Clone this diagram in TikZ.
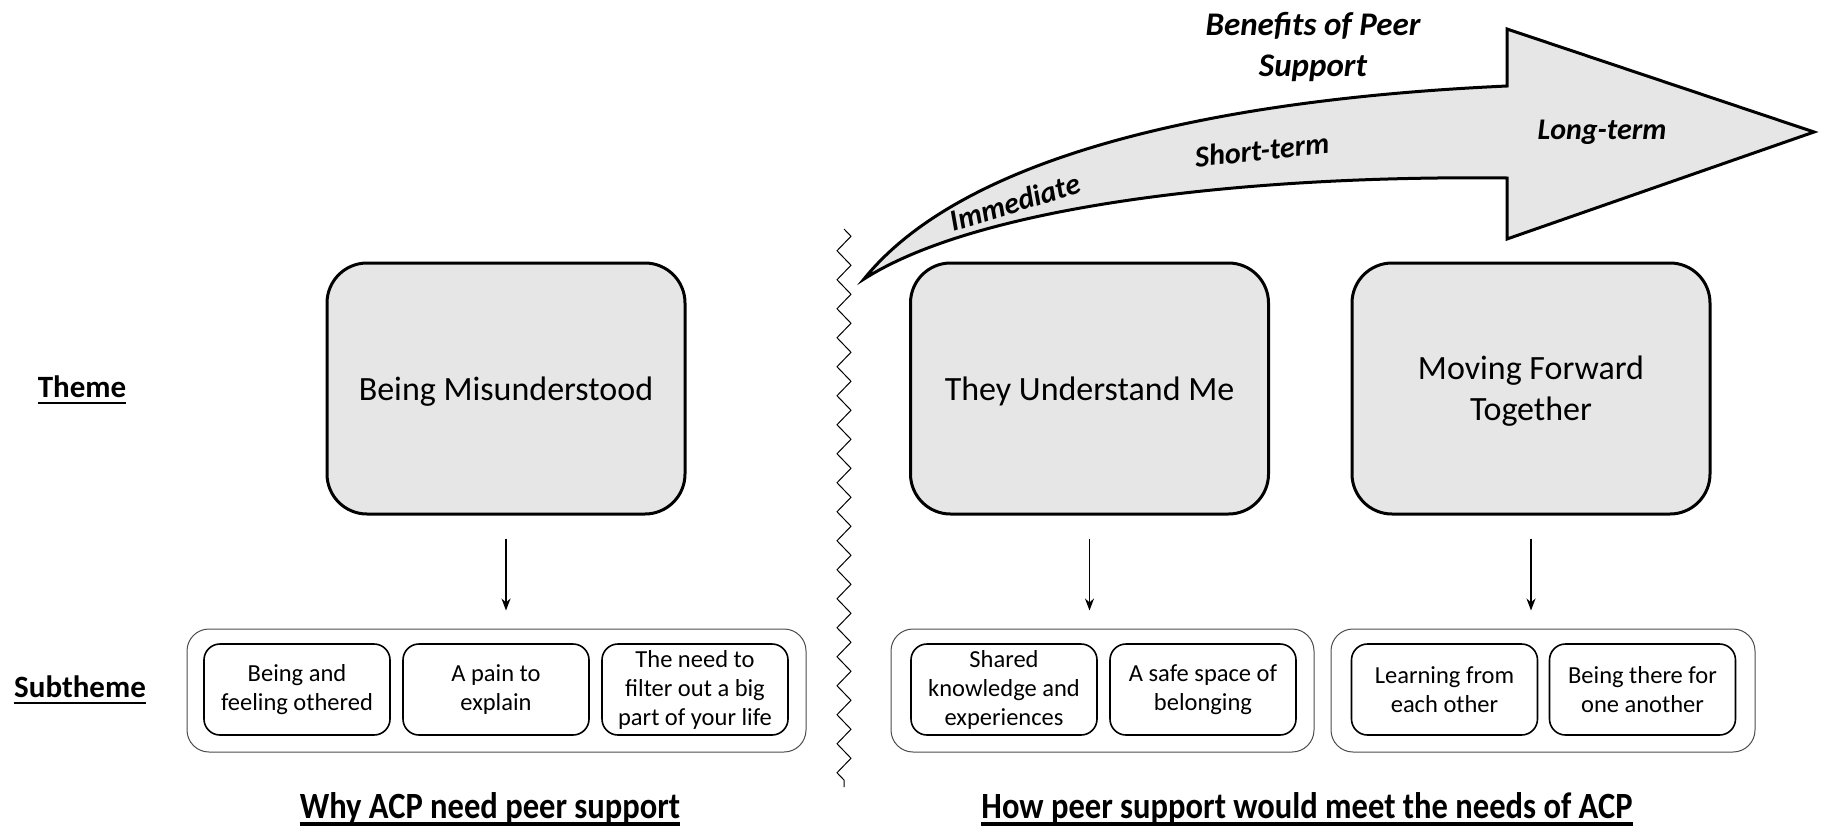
\documentclass[tikz,border=0pt]{standalone}
\usepackage{fontspec}
\setmainfont{Carlito}
\newfontfamily\condfont[FakeStretch=0.88]{Carlito}
\usetikzlibrary{arrows.meta,decorations.pathmorphing}
\definecolor{boxgray}{HTML}{E6E6E6}
\tikzset{
  themebox/.style={draw, line width=3, fill=boxgray, rounded corners=40,
    minimum width=358, minimum height=251, inner sep=0, align=center,
    font=\fontsize{34}{41}\selectfont},
  groupbox/.style={draw, line width=1, draw=black!70, rounded corners=22,
    minimum height=123, inner sep=0},
  subbox/.style={draw, line width=1.6, rounded corners=16, minimum width=186,
    minimum height=91, inner sep=0, align=center,
    font=\fontsize{24.5}{29}\selectfont},
  rowlabel/.style={inner sep=0, font=\fontsize{31}{36}\selectfont\bfseries},
  titlelabel/.style={inner sep=0, font=\fontsize{37}{42}\selectfont\condfont\bfseries},
  arrowlabel/.style={inner sep=0, font=\fontsize{30}{36}\selectfont\bfseries\itshape},
  down/.style={line width=1.5, -{Stealth[length=12,width=9]}, shorten <=23, shorten >=18},
}
\begin{document}
\begin{tikzpicture}[x=1pt,y=-1pt]
\useasboundingbox (0,0) rectangle (1826,830);

% big curved arrow
\draw[line width=3, fill=boxgray, line join=miter]
  (864,279) .. controls (960,160) and (1200,100) .. (1507,86)
  -- (1507,29) -- (1814,132) -- (1507,239) -- (1507,178)
  .. controls (1250,175) and (980,205) .. (864,279) -- cycle;
\node[arrowlabel, rotate=17] (imm) at (1015,202) {Immediate};
\node[arrowlabel, rotate=6] (short) at (1262,150) {Short-term};
\node[arrowlabel] (long) at (1602,132) {Long-term};
\node[arrowlabel, font=\fontsize{33}{41}\selectfont\bfseries\itshape, align=center] (ben) at (1313,47) {Benefits of Peer\\Support};

% zigzag divider
\coordinate (zz1) at (844,229);
\coordinate (zz2) at (844,787);
\draw[line width=1, decorate, decoration={zigzag, segment length=29, amplitude=7}] (zz1) -- (zz2);

% row labels
\node[rowlabel] (lth) at (82,387) {Theme};
\draw[line width=2.5] ([yshift=-5]lth.base west) -- ([yshift=-5]lth.base east);
\node[rowlabel] (lsub) at (80,687) {Subtheme};
\draw[line width=2.5] ([yshift=-5]lsub.base west) -- ([yshift=-5]lsub.base east);

% themes
\node[themebox, text height=32, text depth=8] (t1) at (506,388.5) {Being Misunderstood};
\node[themebox, text height=32, text depth=8] (t2) at (1089.5,388.5) {They Understand Me};
\node[themebox] (t3) at (1531,388.5) {\rule{0pt}{7pt}\\[-19pt]Moving Forward\\Together};

% subtheme groups
\node[groupbox, minimum width=619] (g1) at (496.5,690.5) {};
\node[groupbox, minimum width=423] (g2) at (1102.5,690.5) {};
\node[groupbox, minimum width=424] (g3) at (1543,690.5) {};

\node[subbox] (s11) at (297,689.5) {Being and\\feeling othered};
\node[subbox] (s12) at (496,689.5) {A pain to\\explain};
\node[subbox] (s13) at (695,689.5) {The need to\\filter out a big\\part of your life};
\node[subbox] (s21) at (1004,689.5) {Shared\\knowledge and\\experiences};
\node[subbox] (s22) at (1203,689.5) {A safe space of\\belonging};
\node[subbox] (s31) at (1444.5,689.5) {Learning from\\each other};
\node[subbox] (s32) at (1642.5,689.5) {Being there for\\one another};

% arrows
\draw[down] (t1.south) -- (t1.south |- g1.north);
\draw[down] (t2.south) -- (t2.south |- g2.north);
\draw[down] (t3.south) -- (t3.south |- g3.north);

% bottom titles
\node[titlelabel] (bt1) at (490,808) {Why ACP need peer support};
\draw[line width=4] ([yshift=-6]bt1.base west) -- ([yshift=-6]bt1.base east);
\node[titlelabel] (bt2) at (1307,808) {How peer support would meet the needs of ACP};
\draw[line width=4] ([yshift=-6]bt2.base west) -- ([yshift=-6]bt2.base east);
\end{tikzpicture}
\end{document}
